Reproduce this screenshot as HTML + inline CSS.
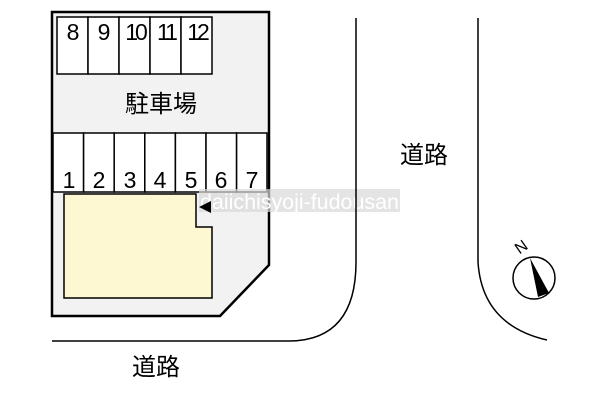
<!DOCTYPE html>
<html><head><meta charset="utf-8"><style>
body{margin:0;background:#fff;width:600px;height:400px;overflow:hidden}
svg text{font-family:"Liberation Sans","Noto Sans CJK JP",sans-serif}
</style></head><body>
<svg width="600" height="400" viewBox="0 0 600 400" xmlns="http://www.w3.org/2000/svg">
<polygon points="52,12 269,12 269,265 220,316 52,316" fill="#f2f2f2" stroke="#000" stroke-width="2.5"/>
<g fill="#fff" stroke="#000" stroke-width="1.5">
<rect x="57" y="17" width="31" height="57"/><rect x="88" y="17" width="31" height="57"/><rect x="119" y="17" width="31" height="57"/><rect x="150" y="17" width="31" height="57"/><rect x="181" y="17" width="31" height="57"/>
<rect x="53" y="133" width="30.6" height="59"/><rect x="83.6" y="133" width="30.6" height="59"/><rect x="114.2" y="133" width="30.6" height="59"/><rect x="144.8" y="133" width="30.6" height="59"/><rect x="175.4" y="133" width="30.6" height="59"/><rect x="206" y="133" width="30.6" height="59"/><rect x="236.6" y="133" width="30.4" height="59"/>
</g>
<g font-size="23" text-anchor="middle" fill="#000">
<text x="73" y="40">8</text><text x="104" y="40">9</text><text x="135" y="40" letter-spacing="-3">10</text><text x="166" y="40" letter-spacing="-3">11</text><text x="197" y="40" letter-spacing="-3">12</text>
<text x="69" y="188">1</text><text x="99" y="188">2</text><text x="130" y="188">3</text><text x="160" y="188">4</text><text x="191" y="188">5</text><text x="221" y="188">6</text><text x="252" y="188">7</text>
<text x="161" y="112" font-size="24">駐車場</text>
<text x="424" y="163" font-size="24">道路</text>
<text x="156" y="375" font-size="24">道路</text>
</g>
<polygon points="64,194 196,194 196,227 212,227 212,298 64,298" fill="#fdf8d2" stroke="#000" stroke-width="1.5"/>
<rect x="199" y="189" width="201" height="23" fill="#d9d9d9" opacity="0.7"/>
<text x="200" y="209" font-size="21.5" fill="#fff" textLength="199">daiichisyoji-fudousan</text>
<polygon points="199,207 211,201 211,213" fill="#000"/>
<path d="M356,18 V262 Q356,340 290,341 H52" fill="none" stroke="#000" stroke-width="1.5"/>
<path d="M478,18 V262 Q482,325 547,340" fill="none" stroke="#000" stroke-width="1.5"/>
<circle cx="534" cy="278" r="21" fill="#fff" stroke="#000" stroke-width="1.5"/>
<polygon points="530,258 549,293 538,297" fill="#000"/>
<text x="522" y="252" font-size="16" transform="rotate(-35 522 248)" text-anchor="middle">N</text>
</svg>
</body></html>
